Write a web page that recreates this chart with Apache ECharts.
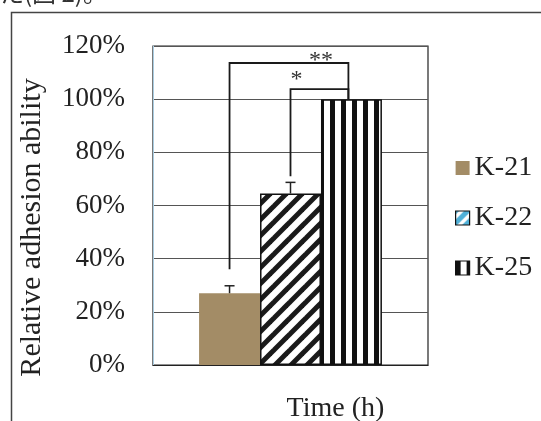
<!DOCTYPE html>
<html>
<head>
<meta charset="utf-8">
<script src="https://cdn.jsdelivr.net/npm/echarts@6/dist/echarts.min.js"></script>
<style>
html,body{margin:0;padding:0;background:#fff;}
#chart{width:541px;height:421px;}
</style>
</head>
<body>
<div id="chart"></div>
<script>
// ---- data ----
const categories = [''];
const seriesNames = ['K-21', 'K-22', 'K-25'];
const values = [27, 64.5, 100];
const errors = [2.8, 4.2, 0];
const yTicks = [0, 20, 40, 60, 80, 100, 120];
// brackets: [leftBar, leftBottomValue, rightBar, rightBottomValue, topValue]
const brackets = [
  [0, 36, 1.95, 100, 113.6],
  [1, 71, 1.95, 100, 103.8]
];
// star labels: [barPosition, value, text]
const stars = [
  [1.5, 114.5, '**'],
  [1.1, 107.3, '*']
];

const FONT = "'Liberation Serif', 'Times New Roman', serif";
const CAT_GAP = 0.335;

function makePattern(kind, size, color, bg) {
  const c = document.createElement('canvas');
  c.width = size; c.height = size;
  const ctx = c.getContext('2d');
  ctx.fillStyle = bg; ctx.fillRect(0, 0, size, size);
  ctx.fillStyle = color; ctx.strokeStyle = color;
  if (kind === 'diag') {
    ctx.lineWidth = 5;
    for (let k = -1; k <= 1; k++) {
      ctx.beginPath();
      ctx.moveTo(k * size - 2, size + 2);
      ctx.lineTo(k * size + size + 2, -2);
      ctx.stroke();
    }
  } else {
    ctx.fillRect(0, 0, Math.round(size * 0.45), size);
  }
  return c;
}
const diagPat = { image: makePattern('diag', 16, '#1a1a1a', '#ffffff'), repeat: 'repeat' };
const vertPat = { image: makePattern('vert', 11, '#111111', '#ffffff'), repeat: 'repeat' };
const legendDiag = { image: makePattern('diag', 12, '#4fb0d8', '#ffffff'), repeat: 'repeat' };

const barStyles = [
  { color: '#a38c66' },
  { color: diagPat, borderColor: '#111', borderWidth: 1.5 },
  { color: vertPat, borderColor: '#111', borderWidth: 1.5 }
];

function barX(api, center, pos) {
  const band = api.size([1, 0])[0];
  const bw = band * (1 - CAT_GAP) / seriesNames.length;
  return center + (pos - (seriesNames.length - 1) / 2) * bw;
}

const chart = echarts.init(document.getElementById('chart'), null, { renderer: 'canvas' });

const series = seriesNames.map((name, i) => ({
  name: name,
  type: 'bar',
  data: [values[i]],
  barGap: '0%',
  barCategoryGap: (CAT_GAP * 100) + '%',
  itemStyle: barStyles[i],
  emphasis: { disabled: true },
  z: 2
}));

series.push({
  type: 'custom',
  name: 'errors',
  data: values.map((v, i) => [0, v, errors[i], i]),
  z: 5,
  renderItem: function (params, api) {
    const v = api.value(1), e = api.value(2), i = api.value(3);
    if (!e) return null;
    const c0 = api.coord([0, v]);
    const c1 = api.coord([0, v + e]);
    const x = barX(api, c0[0], i);
    const style = { stroke: '#222', lineWidth: 1.5 };
    return {
      type: 'group',
      children: [
        { type: 'line', shape: { x1: x, y1: c0[1], x2: x, y2: c1[1] }, style: style },
        { type: 'line', shape: { x1: x - 5, y1: c1[1], x2: x + 5, y2: c1[1] }, style: style }
      ]
    };
  }
});

series.push({
  type: 'custom',
  name: 'brackets',
  data: brackets.map(b => [0, b[0], b[1], b[2], b[3], b[4]]),
  z: 6,
  renderItem: function (params, api) {
    const lb = api.value(1), lv = api.value(2), rb = api.value(3), rv = api.value(4), tv = api.value(5);
    const cx = api.coord([0, 0])[0];
    const xl = barX(api, cx, lb), xr = barX(api, cx, rb);
    const yl = api.coord([0, lv])[1], yr = api.coord([0, rv])[1], yt = api.coord([0, tv])[1];
    return {
      type: 'polyline',
      shape: { points: [[xl, yl], [xl, yt], [xr, yt], [xr, yr]] },
      style: { stroke: '#1a1a1a', lineWidth: 1.8, fill: null }
    };
  }
});

series.push({
  type: 'custom',
  name: 'stars',
  data: stars.map(s => [0, s[0], s[1], s[2]]),
  z: 7,
  renderItem: function (params, api) {
    const pos = api.value(1), v = api.value(2);
    const txt = stars[params.dataIndex][2];
    const cx = api.coord([0, v]);
    return {
      type: 'text',
      x: barX(api, cx[0], pos),
      y: cx[1],
      style: {
        text: txt, fill: '#333', font: "24px " + FONT,
        align: 'center', verticalAlign: 'middle'
      }
    };
  }
});

const option = {
  animation: false,
  backgroundColor: '#ffffff',
  grid: {
    left: 153, right: 113, top: 46, bottom: 56,
    containLabel: false, outerBoundsMode: 'none',
    show: true, borderColor: '#222', borderWidth: 1.2, backgroundColor: 'transparent'
  },
  legend: {
    orient: 'vertical',
    left: 450, top: 149,
    itemWidth: 14, itemHeight: 14, itemGap: 22,
    icon: 'rect',
    textStyle: { fontFamily: FONT, fontSize: 28, color: '#222', lineHeight: 27 },
    data: [
      { name: 'K-21', itemStyle: { color: '#a38c66' } },
      { name: 'K-22', itemStyle: { color: legendDiag, borderColor: '#111', borderWidth: 1.2 } },
      { name: 'K-25', itemStyle: { color: vertPat, borderColor: '#111', borderWidth: 1.2 } }
    ],
    selectedMode: false
  },
  xAxis: {
    type: 'category',
    data: categories,
    name: 'Time (h)',
    nameLocation: 'middle',
    nameGap: 30,
    nameTextStyle: { fontFamily: FONT, fontSize: 28, color: '#222', padding: [0, 0, 0, 90] },
    axisLine: { show: true, lineStyle: { color: '#222', width: 1.2 } },
    axisTick: { show: false },
    axisLabel: { show: false },
    splitLine: { show: false }
  },
  yAxis: {
    type: 'value',
    min: yTicks[0], max: yTicks[yTicks.length - 1], interval: 20,
    name: 'Relative adhesion ability',
    nameLocation: 'middle',
    nameGap: 106,
    nameRotate: 90,
    nameTextStyle: { fontFamily: FONT, fontSize: 30, color: '#222', padding: [0, 44, 0, 0] },
    axisLine: { show: true, lineStyle: { color: '#a9cde2', width: 1 } },
    axisTick: { show: false },
    axisLabel: { formatter: '{value}%', fontFamily: FONT, fontSize: 27, color: '#222', margin: 28 },
    splitLine: { show: true, lineStyle: { color: '#555', width: 1.2 } }
  },
  graphic: [
    { type: 'rect', left: 9, top: 10, shape: { width: 600, height: 500 }, style: { stroke: '#444', lineWidth: 1.5, fill: null }, z: 0, silent: true },
    { type: 'text', left: 0, top: -19, style: { text: 'た(図 2)。', font: "24px 'Noto Sans CJK JP'", fill: '#333' }, silent: true }
  ],
  series: series
};
chart.setOption(option);
</script>
</body>
</html>
